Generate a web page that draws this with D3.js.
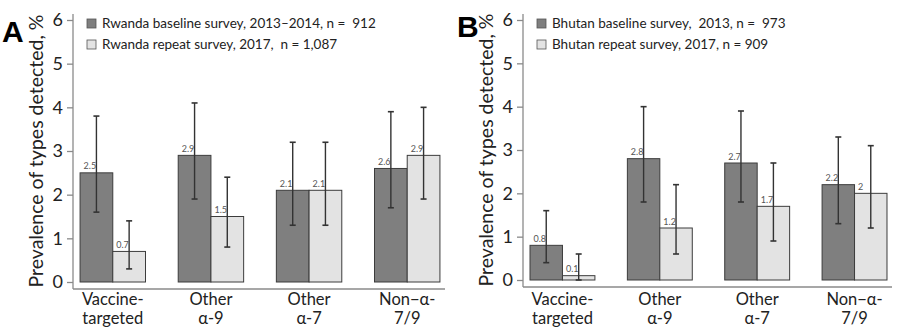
<!DOCTYPE html>
<html>
<head>
<meta charset="utf-8">
<script src="https://cdn.jsdelivr.net/npm/d3@7"></script>
<style>
  html, body { margin: 0; padding: 0; background: #fff; }
  svg { display: block; font-family: Lato, "Open Sans", sans-serif; }
  .legend text { white-space: pre; }
</style>
</head>
<body>
<svg id="chart" width="902" height="330"></svg>
<script>
// Type groups along the x axis (two-line labels)
const categories = ["vt", "a9", "a7", "non"];
const categoryLines = [["Vaccine-", "targeted"], ["Other", "α-9"], ["Other", "α-7"], ["Non−α-", "7/9"]];
const seriesKeys = ["baseline", "repeat"];
const yTicks = [0, 1, 2, 3, 4, 5, 6];

// Rwanda: prevalence (%) with 95% CI
const rwandaBaseline = [2.5, 2.9, 2.1, 2.6];
const rwandaBaselineLow = [1.6, 1.9, 1.3, 1.7];
const rwandaBaselineHigh = [3.8, 4.1, 3.2, 3.9];
const rwandaRepeat = [0.7, 1.5, 2.1, 2.9];
const rwandaRepeatLow = [0.3, 0.8, 1.3, 1.9];
const rwandaRepeatHigh = [1.4, 2.4, 3.2, 4.0];
const rwandaLegend = ["Rwanda baseline survey, 2013–2014, n =  912", "Rwanda repeat survey, 2017,  n = 1,087"];

// Bhutan: prevalence (%) with 95% CI
const bhutanBaseline = [0.8, 2.8, 2.7, 2.2];
const bhutanBaselineLow = [0.4, 1.8, 1.8, 1.3];
const bhutanBaselineHigh = [1.6, 4.0, 3.9, 3.3];
const bhutanRepeat = [0.1, 1.2, 1.7, 2.0];
const bhutanRepeatLow = [0.0, 0.6, 0.9, 1.2];
const bhutanRepeatHigh = [0.6, 2.2, 2.7, 3.1];
const bhutanLegend = ["Bhutan baseline survey,  2013, n =  973", "Bhutan repeat survey, 2017, n = 909"];

const fills = { baseline: "#7f7f7f", repeat: "#e3e3e3" };
const svg = d3.select("#chart");

function series(vals, lo, hi) {
  return vals.map((v, i) => ({ v, lo: lo[i], hi: hi[i] }));
}

function drawPanel(cfg) {
  const g = svg.append("g");
  const y = d3.scaleLinear().domain([0, 6]).range([cfg.y0, cfg.y6]);
  const x = d3.scaleBand().domain(categories).range([cfg.x0, cfg.x1])
    .paddingInner(1 / 3).paddingOuter(0.072);
  const xs = d3.scaleBand().domain(seriesKeys).range([0, x.bandwidth()]);
  const axisY = y(0) + 7;

  // y axis
  const ya = g.append("g").attr("transform", `translate(${cfg.x0},0)`)
    .call(d3.axisLeft(y).tickValues(yTicks).tickSize(6).tickPadding(4).tickFormat(d3.format("d")));
  ya.select(".domain").remove();
  ya.selectAll(".tick line").attr("stroke", "#8a8a8a").attr("stroke-width", 1.3);
  ya.selectAll(".tick text").attr("fill", "#222").style("font-size", "18px")
    .style("font-family", "Lato, sans-serif");
  g.append("line").attr("x1", cfg.x0).attr("x2", cfg.x0)
    .attr("y1", y(6) - 6).attr("y2", axisY).attr("stroke", "#8a8a8a").attr("stroke-width", 1.3);
  g.append("line").attr("x1", cfg.x0).attr("x2", cfg.x1 - 2)
    .attr("y1", axisY).attr("y2", axisY).attr("stroke", "#8a8a8a").attr("stroke-width", 1.3);

  // bars
  const groups = g.selectAll(".grp").data(categories).join("g")
    .attr("transform", d => `translate(${x(d)},0)`);
  groups.each(function (c, i) {
    const grp = d3.select(this);
    seriesKeys.forEach(k => {
      const d = cfg.data[k][i];
      const bx = xs(k), bw = xs.bandwidth();
      grp.append("rect").attr("x", bx).attr("y", y(d.v))
        .attr("width", bw).attr("height", y(0) - y(d.v))
        .attr("fill", fills[k]).attr("stroke", "#3c3c3c").attr("stroke-width", 1);
      const cx = bx + bw / 2;
      grp.append("line").attr("x1", cx).attr("x2", cx).attr("y1", y(d.hi)).attr("y2", y(d.lo))
        .attr("stroke", "#333").attr("stroke-width", 1.4);
      [d.hi, d.lo].forEach(e => grp.append("line").attr("x1", cx - 3).attr("x2", cx + 3)
        .attr("y1", y(e)).attr("y2", y(e)).attr("stroke", "#333").attr("stroke-width", 1.6));
      grp.append("text").attr("x", bx + 3.5).attr("y", y(d.v) - 3.5)
        .attr("fill", "#555").style("font-size", "9px").text(String(d.v));
    });
    const lab = grp.append("text").attr("text-anchor", "middle").attr("fill", "#222")
      .style("font-size", "16.5px");
    categoryLines[i].forEach((t, j) => lab.append("tspan")
      .attr("x", x.bandwidth() / 2).attr("y", 305 + j * 18.5).text(t));
  });

  // axis title
  g.append("text").attr("transform", `translate(${cfg.x0 - 30},${(y(0) + y(6)) / 2}) rotate(-90)`)
    .attr("text-anchor", "middle").attr("fill", "#222").style("font-size", "19.5px")
    .text("Prevalence of types detected, %");

  // panel letter
  g.append("text").attr("x", cfg.letterX).attr("y", cfg.letterY)
    .style("font-family", "'Liberation Sans', Arial, sans-serif").style("font-weight", "bold")
    .style("font-size", "30px").attr("fill", "#000").text(cfg.letter);

  // legend
  const lg = g.append("g").attr("class", "legend");
  seriesKeys.forEach((k, j) => {
    lg.append("rect").attr("x", cfg.x0 + 14).attr("y", 19 + j * 21).attr("width", 9).attr("height", 9)
      .attr("fill", fills[k]).attr("stroke", "#555").attr("stroke-width", 0.8);
    lg.append("text").attr("x", cfg.x0 + 29).attr("y", 28 + j * 21).attr("fill", "#222")
      .style("font-size", "13.5px").text(cfg.legend[j]);
  });
}

drawPanel({
  letter: "A", letterX: 2, letterY: 42,
  x0: 73, x1: 447, y0: 282, y6: 20,
  legend: rwandaLegend,
  data: {
    baseline: series(rwandaBaseline, rwandaBaselineLow, rwandaBaselineHigh),
    repeat: series(rwandaRepeat, rwandaRepeatLow, rwandaRepeatHigh)
  }
});
drawPanel({
  letter: "B", letterX: 457, letterY: 37,
  x0: 523, x1: 894, y0: 280, y6: 20,
  legend: bhutanLegend,
  data: {
    baseline: series(bhutanBaseline, bhutanBaselineLow, bhutanBaselineHigh),
    repeat: series(bhutanRepeat, bhutanRepeatLow, bhutanRepeatHigh)
  }
});
</script>
</body>
</html>
